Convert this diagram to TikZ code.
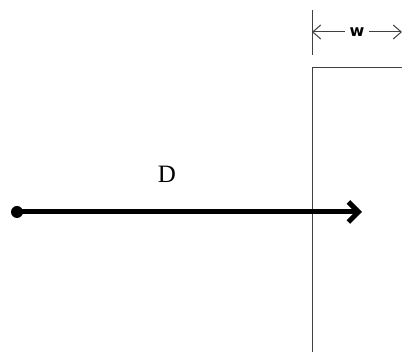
\documentclass[tikz,border=0pt]{standalone}
\usepackage{fontspec}
\setmainfont{Liberation Serif}
\setsansfont{DejaVu Sans}
\usetikzlibrary{arrows.meta}

\begin{document}
\begin{tikzpicture}[
    x=1pt, y=-1pt,
    dot/.style={circle, fill=black, inner sep=0pt, minimum size=12pt},
    arrow/.style={-{Straight Barb[length=10pt, width=20pt, line width=5pt]}, line width=5pt},
    wall/.style={draw=black!75, line width=1pt},
    dim/.style={{Straight Barb[length=8pt, width=14pt]}-{Straight Barb[length=8pt, width=14pt]}, draw=black!75, line width=1pt},
    label/.style={font=\fontsize{25}{25}\selectfont},
    dimlabel/.style={fill=white, inner xsep=5pt, inner ysep=2pt, font=\sffamily\bfseries\fontsize{16}{16}\selectfont}
  ]
    \useasboundingbox (0,0) rectangle (402,352);
    \node[dot] (start) at (17,212) {};
    \coordinate (tip) at (362,212);
    \node[label] (D) at (167,174) {D};
    \coordinate (ticktop) at (312,10);
    \coordinate (tickbot) at (312,55);
    \coordinate (wtop) at (312,68);
    \coordinate (wbot) at (312,352);
    \coordinate (wright) at (402,68);
    \coordinate (dimleft) at (312,32);
    \coordinate (dimright) at (402,32);
    
    \draw[wall] (wright) -- (wtop) -- (wbot);
    \draw[wall] (ticktop) -- (tickbot);
    \draw[dim] (dimleft) -- (dimright) node[pos=0.5, dimlabel] (w) {w};
    \draw[arrow] (start.center) -- (tip);
  \end{tikzpicture}
\end{document}
